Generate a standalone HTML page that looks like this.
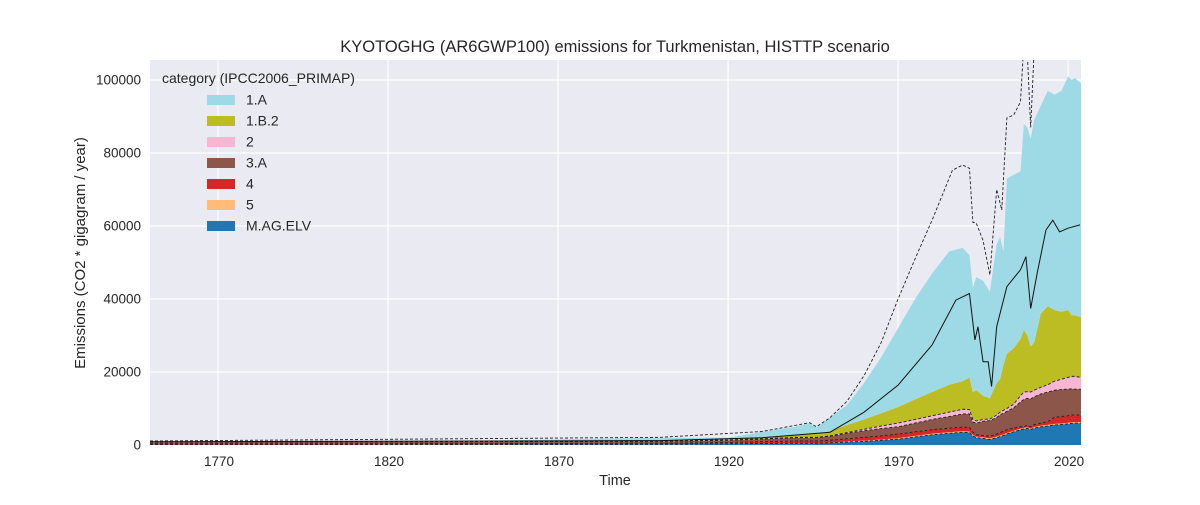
<!DOCTYPE html>
<html><head><meta charset="utf-8"><style>
body{margin:0;background:#fff;font-family:"Liberation Sans",sans-serif}
</style></head><body>
<svg id="c" width="1200" height="500" xmlns="http://www.w3.org/2000/svg"></svg>
<script>
const years=[1750,1800,1850,1900,1920,1930,1940,1944,1946,1950,1955,1960,1965,1970,1975,1980,1985,1989,1991,1992,1993,1995,1997,1999,2000,2001,2002,2004,2006,2007,2008,2009,2010,2012,2014,2016,2018,2020,2021,2022,2024];
const sElv=[0.1,0.1,0.15,0.2,0.3,0.4,0.5,0.5,0.5,0.6,0.8,1.0,1.3,1.6,2.2,2.8,3.2,3.5,3.4,2.5,2.0,1.8,1.5,2.0,2.3,2.6,3.0,3.6,4.2,4.4,4.6,4.2,4.6,5.0,5.2,5.5,5.6,5.8,5.9,6.0,6.0];
const s5=[0.05,0.05,0.05,0.05,0.05,0.05,0.05,0.05,0.05,0.05,0.2,0.2,0.2,0.3,0.3,0.3,0.3,0.3,0.3,0.3,0.3,0.3,0.3,0.3,0.3,0.3,0.3,0.3,0.3,0.3,0.3,0.3,0.3,0.3,0.3,0.3,0.3,0.3,0.3,0.3,0.3];
const s4=[0.2,0.2,0.2,0.25,0.35,0.45,0.55,0.55,0.55,0.65,0.7,0.9,1.0,1.1,1.1,1.1,1.1,1.1,1.1,0.7,0.5,0.5,0.6,0.7,0.8,0.9,0.9,0.7,0.5,0.3,0.5,0.5,0.7,0.7,0.9,1.8,1.9,1.9,2.0,1.9,1.9];
const s3A=[0.45,0.5,0.5,0.5,0.6,0.7,0.9,0.9,0.9,1.1,1.5,1.8,2.0,2.0,2.4,2.8,3.2,3.6,3.7,2.8,3.2,3.9,4.3,4.5,4.9,4.9,5.0,5.6,6.8,7.5,7.4,7.6,7.6,8.0,8.1,7.4,7.4,7.3,7.2,7.1,7.1];
const s2=[0.05,0.05,0.05,0.05,0.1,0.1,0.1,0.1,0.1,0.1,0.2,0.4,0.7,1.0,1.0,1.0,1.2,1.3,1.2,0.7,0.6,0.5,0.4,0.7,0.7,0.8,0.8,1.0,1.7,2.0,1.8,1.9,1.8,1.8,2.0,2.5,2.8,3.2,3.4,3.5,3.2];
const s1B2=[0.05,0.05,0.05,0.1,0.2,0.5,0.7,0.9,0.9,1.3,2.1,2.7,3.5,4.4,5.5,6.5,7.5,7.7,8.8,7.5,8.4,6.5,5.7,8.8,9.0,12.5,15,15.3,15.5,17,15.4,12.5,13,20.2,21.5,19.5,18.5,18.5,16.7,16.7,16.5];
const s1A=[0.1,0.1,0.2,0.85,0.4,1.4,2.2,3.0,1.8,3.7,5.5,10,15.3,21.6,27.5,32.5,36.5,36.5,33.5,28.5,31,31.5,29.2,38,39,31,48,47.5,46,56.5,57,57,61,57,59,59,60.5,64,64.5,65,64];
const upYears=[1750,1900,1930,1944,1946,1950,1955,1960,1965,1970,1975,1980,1986,1989,1991,1992,1993,1995,1997,1999,2000.5,2002,2004,2006,2007.5,2009,2010.5,2012];
const upVals=[1.1,2.1,3.7,6.1,5.0,7.5,12,19,28,40,51,61.6,75.3,76.7,75.8,61,60.8,56,46.6,70,64.4,89.6,90.4,94,118,87,118,125];
const midYears=[1750,1900,1930,1950,1952,1960,1970,1980,1987,1991,1992.6,1993.5,1995,1996.5,1997.5,1999,2002,2006,2007.6,2009,2011,2013.5,2015.5,2017.5,2020,2023.5];
const midVals=[0.9,1.2,2,3.5,4.6,9,16.4,27.4,39.7,41.5,28.8,32.4,22.8,22.8,16,32.4,43.4,48,51.6,37.4,47.5,58.9,61.6,58.4,59.4,60.3];
const yTicks=[0,20000,40000,60000,80000,100000];
const xTicks=[1770,1820,1870,1920,1970,2020];
const cats=["1.A","1.B.2","2","3.A","4","5","M.AG.ELV"];

const L=150,R=1081,T=60,B=445;
const X=y=>L+(y-1750)*(R-L)/(2023.8-1750);
const Y=v=>B-v*(B-80)/100;
const NS="http://www.w3.org/2000/svg";
const svg=document.getElementById('c');
function mk(t,a,p){const e=document.createElementNS(NS,t);for(const k in a)e.setAttribute(k,a[k]);(p||svg).appendChild(e);return e;}
const bg=mk('rect',{x:L,y:T,width:R-L,height:B-T,fill:'#eaeaf2'});


const grid=mk('g',{});


yTicks.forEach(t=>{const y=Y(t/1000);mk('line',{x1:L,x2:R,y1:y,y2:y,stroke:'#fff','stroke-width':1.2},grid);
 const tx=mk('text',{x:141,y:y+4.5,'text-anchor':'end','font-size':13.5,fill:'#262626'});tx.textContent=t;
 
 });
xTicks.forEach(t=>{const x=X(t);mk('line',{x1:x,x2:x,y1:T,y2:B,stroke:'#fff','stroke-width':1.2},grid);
 const tx=mk('text',{x:x+1,y:466,'text-anchor':'middle','font-size':13.5,fill:'#262626'});tx.textContent=t;
 
 });
const clip=mk('clipPath',{id:'cp'});mk('rect',{x:L,y:T,width:R-L,height:B-T},clip);
const plot=mk('g',{'clip-path':'url(#cp)'});


const series=[sElv,s5,s4,s3A,s2,s1B2,s1A];
const colors=['#1f77b4','#ffbb78','#d62728','#8c564b','#f7b6d2','#bcbd22','#9edae5'];
const names=['area-m-ag-elv','area-5','area-4','area-3a','area-2','area-1b2','area-1a'];
let base=years.map(()=>0);const tops=[];
series.forEach((s,i)=>{const top=base.map((b,j)=>b+s[j]);
 let d='M'+years.map((y,j)=>X(y)+','+Y(top[j])).join('L');
 for(let j=years.length-1;j>=0;j--)d+='L'+X(years[j])+','+Y(base[j]);
 const p=mk('path',{d:d+'Z',fill:colors[i],stroke:'none'},plot);
 
 
 tops.push(top);base=top;});
[0,2,3,4].forEach(i=>{const l=mk('polyline',{points:years.map((y,j)=>X(y)+','+Y(tops[i][j])).join(' '),fill:'none',stroke:'#222','stroke-width':0.9,'stroke-dasharray':'3,2'},plot);
 
 });
const up=mk('polyline',{points:upYears.map((y,j)=>X(y)+','+Y(upVals[j])).join(' '),fill:'none',stroke:'#222','stroke-width':0.9,'stroke-dasharray':'3,2'},plot);


const mid=mk('polyline',{points:midYears.map((y,j)=>X(y)+','+Y(midVals[j])).join(' '),fill:'none',stroke:'#111','stroke-width':1},plot);


const lg=mk('g',{});


const lt=mk('text',{x:162,y:83,'font-size':14,fill:'#262626'},lg);lt.textContent='category (IPCC2006_PRIMAP)';
const legColors=['#9edae5','#bcbd22','#f7b6d2','#8c564b','#d62728','#ffbb78','#1f77b4'];
cats.forEach((c,i)=>{const y=95+i*21;
 const r=mk('rect',{x:207,y:y,width:28,height:10,fill:legColors[i]},lg);
 
 
 const t=mk('text',{x:246,y:y+9.5,'font-size':14,fill:'#262626'},lg);t.textContent=c;
 
 });
const ti=mk('text',{x:615,y:52,'text-anchor':'middle','font-size':16.5,fill:'#262626'});ti.textContent='KYOTOGHG (AR6GWP100) emissions for Turkmenistan, HISTTP scenario';


const xl=mk('text',{x:615,y:485,'text-anchor':'middle','font-size':14.5,fill:'#262626'});xl.textContent='Time';


const yl=mk('text',{x:85,y:253,'text-anchor':'middle','font-size':15,fill:'#262626',transform:'rotate(-90 85 253)'});yl.textContent='Emissions (CO2 * gigagram / year)';


</script>
</body></html>
